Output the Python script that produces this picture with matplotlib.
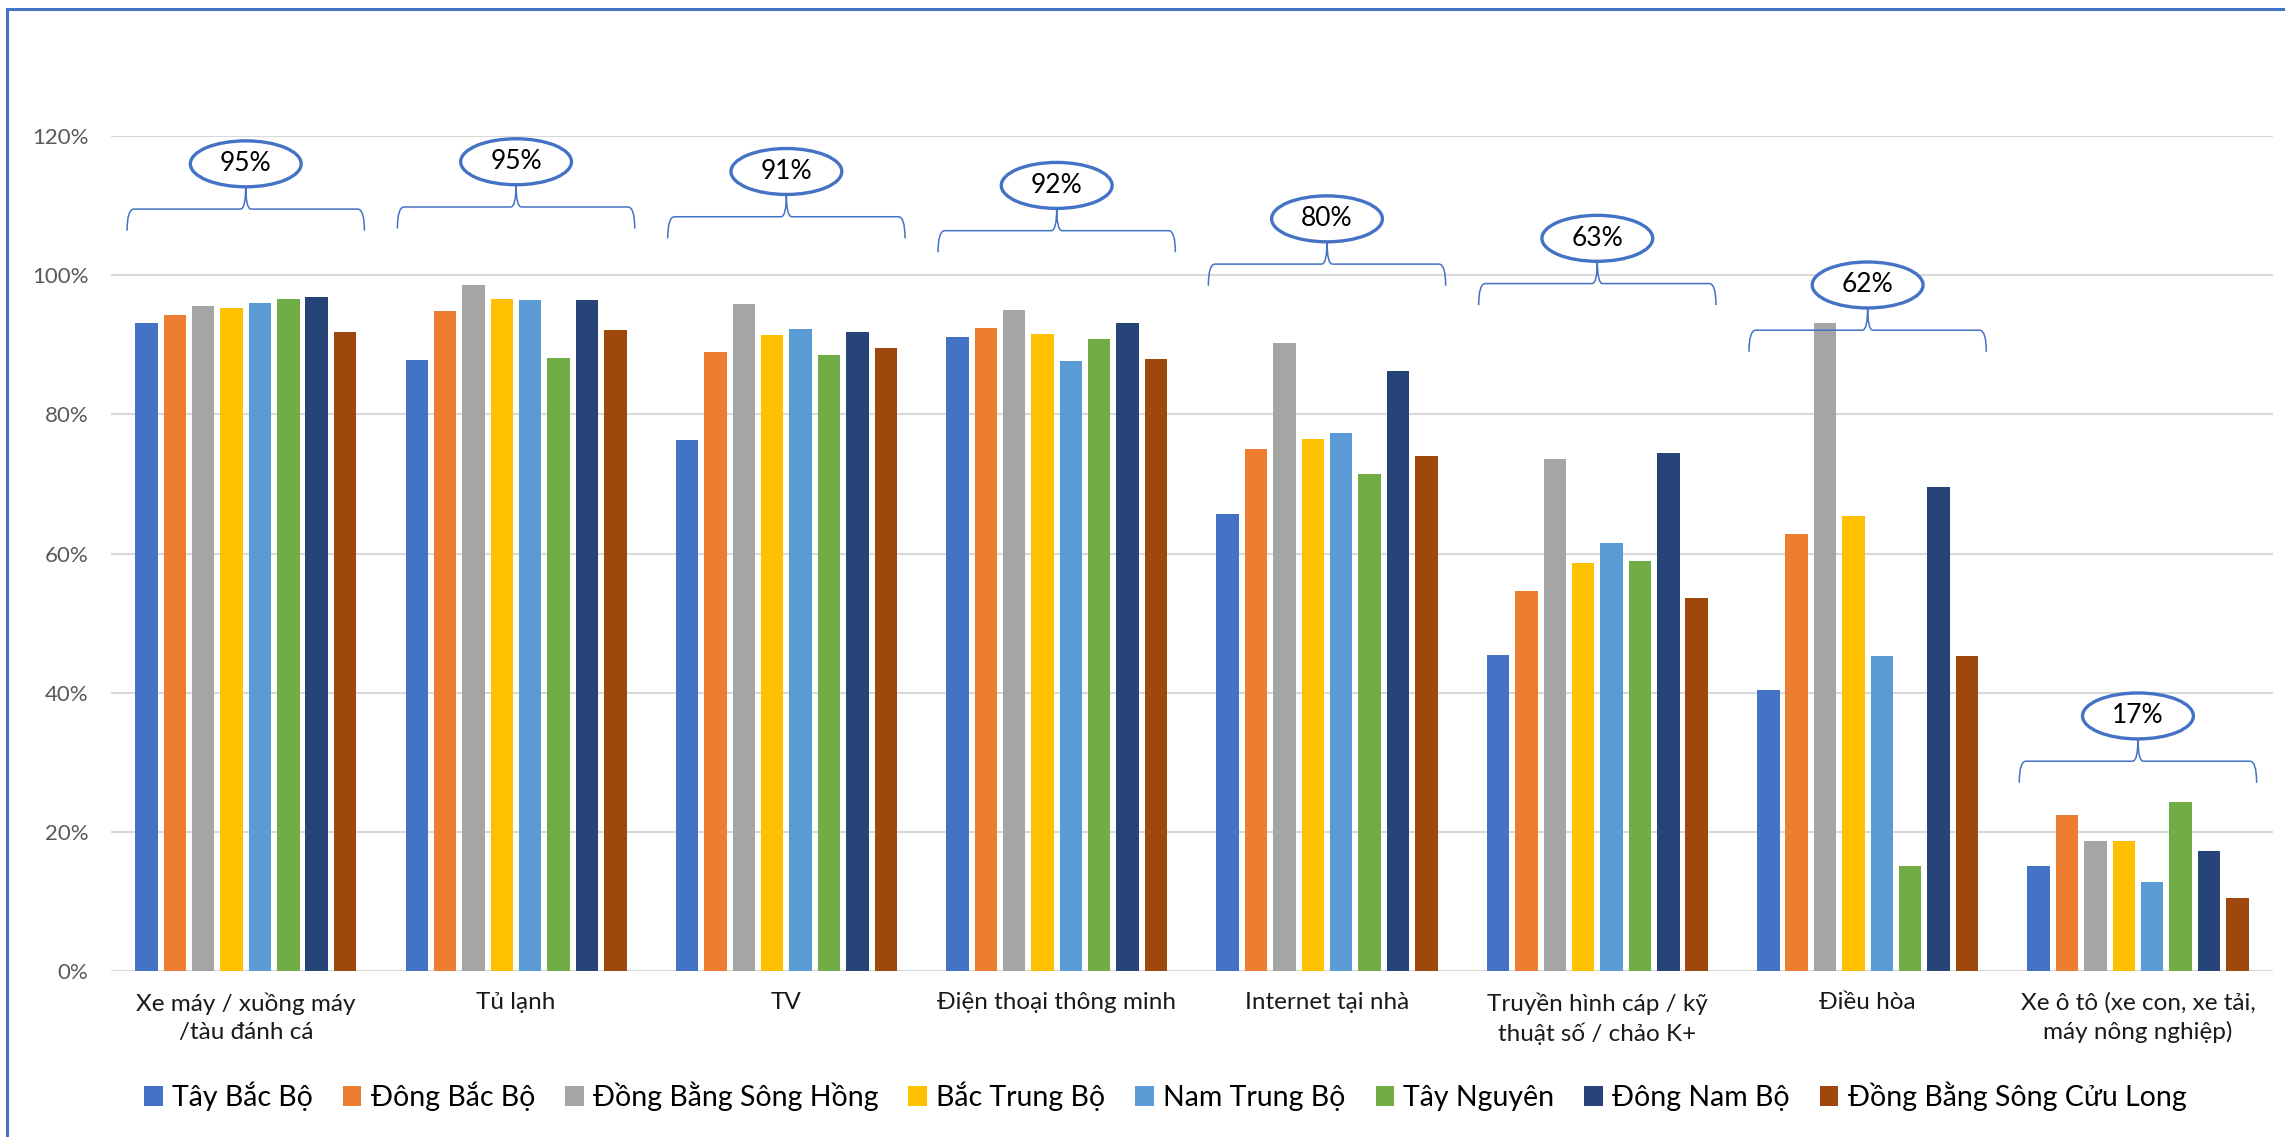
import matplotlib
matplotlib.use("Agg")
import matplotlib.pyplot as plt
from matplotlib.patches import Ellipse, PathPatch
from matplotlib.path import Path
from matplotlib.lines import Line2D

plt.rcParams["font.family"] = ["Lato", "DejaVu Sans"]

# Dữ liệu
categories = [
    "Xe máy / xuồng máy\n/tàu đánh cá",
    "Tủ lạnh",
    "TV",
    "Điện thoại thông minh",
    "Internet tại nhà",
    "Truyền hình cáp / kỹ\nthuật số / chảo K+",
    "Điều hòa",
    "Xe ô tô (xe con, xe tải,\nmáy nông nghiệp)",
]
regions = [
    "Tây Bắc Bộ", "Đông Bắc Bộ", "Đồng Bằng Sông Hồng", "Bắc Trung Bộ",
    "Nam Trung Bộ", "Tây Nguyên", "Đông Nam Bộ", "Đồng Bằng Sông Cửu Long",
]
tay_bac_bo = [93.2, 87.8, 76.3, 91.1, 65.7, 45.5, 40.4, 15.1]
dong_bac_bo = [94.3, 94.9, 89.0, 92.4, 75.1, 54.6, 62.9, 22.4]
dbs_hong = [95.6, 98.6, 95.9, 95.0, 90.3, 73.6, 93.2, 18.8]
bac_trung_bo = [95.3, 96.6, 91.4, 91.6, 76.5, 58.6, 65.4, 18.8]
nam_trung_bo = [96.0, 96.5, 92.3, 87.7, 77.3, 61.5, 45.3, 12.9]
tay_nguyen = [96.6, 88.1, 88.6, 90.8, 71.4, 59.0, 15.1, 24.4]
dong_nam_bo = [96.9, 96.5, 91.9, 93.2, 86.3, 74.4, 69.6, 17.3]
dbs_cuu_long = [91.9, 92.2, 89.6, 87.9, 74.0, 53.7, 45.3, 10.6]
series = [tay_bac_bo, dong_bac_bo, dbs_hong, bac_trung_bo,
          nam_trung_bo, tay_nguyen, dong_nam_bo, dbs_cuu_long]

# Giá trị trung bình trong hình elip và độ cao của dấu ngoặc
avg_labels = ["95%", "95%", "91%", "92%", "80%", "63%", "62%", "17%"]
brace_levels = [109.5, 109.8, 108.4, 106.4, 101.6, 98.8, 92.1, 30.2]

colors = ["#4472C4", "#ED7D31", "#A5A5A5", "#FFC000",
          "#5B9BD5", "#70AD47", "#264478", "#9E480E"]

fig = plt.figure(figsize=(22.85, 11.37), dpi=100)
ax = fig.add_axes([0.0484, 0.1456, 0.9464, 0.7348])

pitch = 0.105
width = 0.083
for j, (vals, name) in enumerate(zip(series, regions)):
    xs = [i + (j - 3.5) * pitch for i in range(len(categories))]
    ax.bar(xs, vals, width=width, color=colors[j], label=name, zorder=3)

ax.set_xlim(-0.5, len(categories) - 0.5)
ax.set_ylim(0, 120)
ax.set_yticks(range(0, 121, 20))
ax.set_yticklabels([f"{v}%" for v in range(0, 121, 20)], fontsize=16, color="#595959")
ax.set_xticks(range(len(categories)))
ax.set_xticklabels(categories, fontsize=17.5, color="#1a1a1a", linespacing=1.4)
ax.tick_params(axis="both", length=0)
ax.tick_params(axis="y", pad=16)
ax.tick_params(axis="x", pad=15)
ax.yaxis.grid(True, color="#D9D9D9", linewidth=1.5, zorder=0)
ax.set_axisbelow(True)
for s in ax.spines.values():
    s.set_visible(False)

# Dấu ngoặc nhọn và hình elip
blue = "#4472C4"
half = 0.439
drop = 3.1
tip = 3.25
for i, (lab, y) in enumerate(zip(avg_labels, brace_levels)):
    xl, xr = i - half, i + half
    verts = [
        (xl, y - drop), (xl, y), (xl + 0.025, y),
        (i - 0.02, y), (i, y), (i, y + tip),
        (i, y), (i + 0.02, y),
        (xr - 0.025, y), (xr, y), (xr, y - drop),
    ]
    codes = [Path.MOVETO, Path.CURVE3, Path.CURVE3,
             Path.LINETO, Path.CURVE3, Path.CURVE3,
             Path.CURVE3, Path.CURVE3,
             Path.LINETO, Path.CURVE3, Path.CURVE3]
    ax.add_patch(PathPatch(Path(verts, codes), fill=False, edgecolor=blue,
                           linewidth=1.1, zorder=4, clip_on=False))
    ax.add_patch(Ellipse((i, y + 6.5), 0.41, 6.6, facecolor="white",
                         edgecolor=blue, linewidth=2.4, zorder=5, clip_on=False))
    ax.text(i, y + 6.5, lab, ha="center", va="center", fontsize=19,
            color="black", zorder=6)

fig.legend(loc="center", bbox_to_anchor=(0.51, 0.036), ncol=8, frameon=False,
           fontsize=20.5, handlelength=0.65, handleheight=0.7,
           handletextpad=0.33, columnspacing=1.05, labelcolor="black")

# Khung viền xanh
fig.add_artist(Line2D([0.003, 1.0], [0.9918, 0.9918], transform=fig.transFigure,
                      color=blue, linewidth=2.2))
fig.add_artist(Line2D([0.003, 0.003], [0.0, 0.9918], transform=fig.transFigure,
                      color=blue, linewidth=2.2))

fig.savefig("out.png", dpi=100)
